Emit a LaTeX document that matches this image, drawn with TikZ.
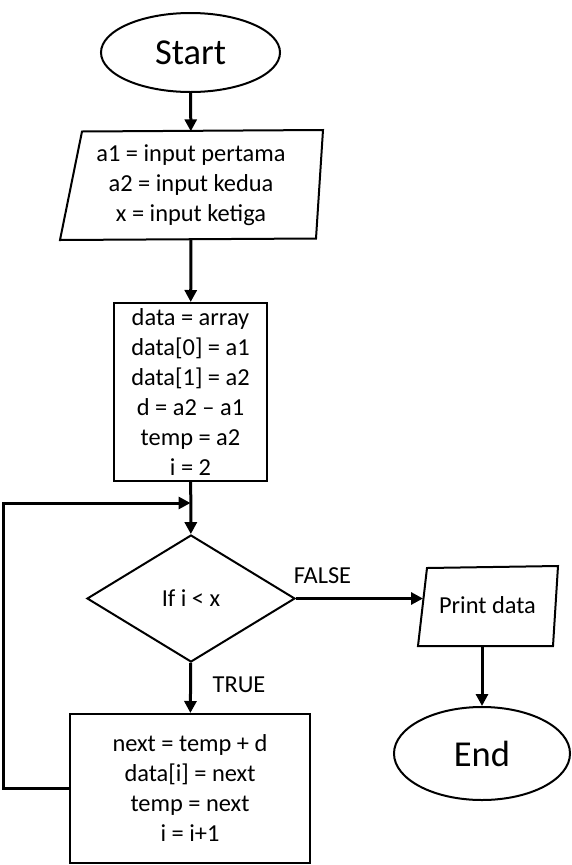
\documentclass[tikz,border=0pt]{standalone}
\usepackage{fontspec}
\setmainfont{Carlito}
\usetikzlibrary{shapes.geometric,arrows.meta}

\tikzset{
  flow/.style={line width=3pt, -{Triangle[length=12pt,width=12pt]}},
  outline/.style={draw, line width=2pt},
  txt/.style={font=\fontsize{24.4}{30}\selectfont, align=center, inner sep=0pt},
  terminal/.style={outline, ellipse, inner sep=0pt, font=\fontsize{36.5}{40}\selectfont},
  process/.style={outline, rectangle, txt},
}

\begin{document}
\begin{tikzpicture}[x=1pt, y=-1pt]
    \fill[white] (0,0) rectangle (571,865);
    \useasboundingbox (0,0) rectangle (571,865);

    \node[terminal, minimum width=179pt, minimum height=79pt] (start) at (190.5,52.5) {Start};

    \draw[outline] (82,131.5) -- (323,130) -- (316,238.5) -- (60,240) -- cycle;
    \node[txt, minimum height=107pt] (input) at (191,185) {a1 = input pertama\\a2 = input kedua\\x = input ketiga};

    \node[process, minimum width=153pt, minimum height=178pt] (init) at (190.5,392)
        {data = array\\data[0] = a1\\data[1] = a2\\d = a2 -- a1\\temp = a2\\i = 2};

    \node[outline, diamond, aspect=1.63, minimum width=208pt, minimum height=127pt, txt] (cond) at (191,598.5) {If i < x};

    \node[process, minimum width=240pt, minimum height=149pt] (body) at (190,788.5)
        {next = temp + d\\data[i] = next\\temp = next\\i = i+1};

    \draw[outline] (427,568) -- (558,566) -- (553,646) -- (418,646) -- cycle;
    \node[txt] (print) at (487.5,605) {Print data};
    \coordinate (printin) at (423,598.5);
    \coordinate (printout) at (482,646);

    \node[terminal, minimum width=176pt, minimum height=93pt] (end) at (482,753.5) {End};

    \coordinate (loopin) at (190.5,503);
    \coordinate (loopcorner) at (3,503);

    \draw[flow] (start) -- (input);
    \draw[flow] (input) -- (init);
    \draw[flow] (init) -- (cond);
    \draw[flow] (cond) -- (body);
    \draw[flow] (cond.east) -- (printin);
    \draw[flow] (printout) -- (end);
    \draw[flow] (body.west) -| (loopcorner) -- (loopin);

    \node[txt, anchor=base] (lblfalse) at (322.5,583) {FALSE};
    \node[txt, anchor=base] (lbltrue) at (239,692) {TRUE};
\end{tikzpicture}
\end{document}
